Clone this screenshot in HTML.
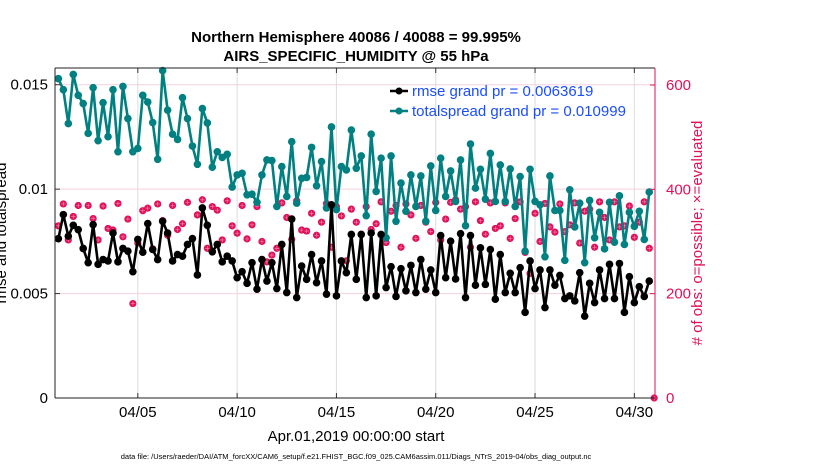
<!DOCTYPE html>
<html><head><meta charset="utf-8"><style>
body{margin:0;background:#fff;}
svg{display:block;font-family:"Liberation Sans",sans-serif;}
</style></head><body>
<svg id="chart" width="830" height="470" viewBox="0 0 830 470" xmlns="http://www.w3.org/2000/svg">
<g id="grid"></g>
<g id="series"></g>
<g id="axes"></g>
<text x="356" y="42" text-anchor="middle" font-size="15" font-weight="bold">Northern Hemisphere 40086 / 40088 = 99.995%</text>
<text x="356" y="61" text-anchor="middle" font-size="15" font-weight="bold">AIRS_SPECIFIC_HUMIDITY @ 55 hPa</text>
<text transform="translate(6,233) rotate(-90)" text-anchor="middle" font-size="15">rmse and totalspread</text>
<text transform="translate(702,233) rotate(-90)" text-anchor="middle" font-size="15" fill="#e0105a"># of obs: o=possible; ×=evaluated</text>
<text x="356" y="441" text-anchor="middle" font-size="15">Apr.01,2019 00:00:00 start</text>
<text x="356" y="459" text-anchor="middle" font-size="7.5">data file: /Users/raeder/DAI/ATM_forcXX/CAM6_setup/f.e21.FHIST_BGC.f09_025.CAM6assim.011/Diags_NTrS_2019-04/obs_diag_output.nc</text>
<g>
<line x1="390" y1="91" x2="408" y2="91" stroke="#000" stroke-width="2.5"/><circle cx="399" cy="91" r="3.5" fill="#000"/>
<text x="412" y="96" font-size="15" fill="#1a4dff">rmse grand pr = 0.0063619</text>
<line x1="390" y1="111" x2="408" y2="111" stroke="#008080" stroke-width="2.5"/><circle cx="399" cy="111" r="3.5" fill="#008080"/>
<text x="412" y="116" font-size="15" fill="#1a4dff">totalspread grand pr = 0.010999</text>
</g>
</svg>
<script>
const xTickLabels = ["04/05","04/10","04/15","04/20","04/25","04/30"];
const xTickDays = [4,9,14,19,24,29];
const yLeftTicks = [0,0.005,0.01,0.015];
const yLeftTickLabels = ["0","0.005","0.01","0.015"];
const yRightTicks = [0,200,400,600];
const totalspread = [15.29,14.76,13.14,15.49,14.49,14.10,12.67,14.86,12.32,14.14,12.51,14.76,11.79,14.92,13.38,11.79,11.95,14.49,14.17,13.19,11.43,15.68,13.78,12.63,12.38,14.38,13.38,12.06,11.19,13.86,13.17,11.05,11.79,11.52,11.67,10.10,10.68,10.76,9.73,9.76,9.37,
10.68,11.40,11.37,9.17,11.08,9.65,12.27,9.33,10.52,10.56,12.00,10.16,11.32,9.10,12.98,9.02,11.08,10.92,12.83,11.00,11.59,8.73,12.63,9.89,11.48,7.67,11.59,8.46,10.29,8.94,10.68,9.17,10.63,8.46,11.11,8.98,11.48,9.65,10.87,
9.41,11.40,8.25,12.16,10.05,10.95,9.52,11.71,9.41,11.16,9.41,10.97,9.17,10.60,7.03,10.95,9.41,9.25,6.76,10.63,8.98,8.98,6.59,9.97,8.19,9.33,6.48,9.46,7.67,8.89,7.14,9.37,7.46,9.68,7.35,8.89,8.22,8.94,7.59,9.86];
const rmse = [7.63,8.78,7.75,8.27,8.06,7.16,6.48,8.30,6.40,6.63,6.56,7.90,6.52,7.16,7.03,6.05,7.59,6.98,8.35,7.11,6.63,8.46,7.90,6.56,6.87,6.79,7.35,7.63,5.89,9.10,8.27,7.00,7.35,6.52,6.79,6.56,5.76,6.05,5.49,6.48,5.21,
6.63,5.60,6.48,5.24,7.35,5.05,8.57,4.81,6.32,5.68,6.87,5.52,6.56,4.97,9.25,4.89,6.56,6.00,7.83,5.68,7.83,4.81,7.90,4.89,7.83,5.29,6.29,4.86,6.19,5.13,6.35,5.05,6.63,5.21,6.13,5.05,7.78,5.76,7.51,
5.70,7.87,4.81,7.78,5.40,7.19,5.44,7.11,4.73,6.87,5.05,5.97,5.05,6.24,4.10,6.56,5.24,6.13,4.33,6.13,5.40,5.87,4.76,4.89,4.65,6.00,3.92,5.49,4.57,6.13,4.76,6.40,4.76,6.44,4.10,5.81,4.57,5.33,4.86,5.60];
const nobs = [330,372,303,348,369,286,369,344,303,368,325,322,373,309,343,181,297,359,364,286,372,340,312,369,323,334,375,306,351,380,287,367,360,303,378,330,316,369,305,332,367,
300,261,274,287,374,346,304,378,322,320,354,312,337,373,289,367,349,263,362,337,314,367,323,334,376,298,358,369,289,372,351,306,369,337,319,375,303,343,375,
380,362,367,289,376,340,314,374,325,330,374,306,344,376,279,239,354,300,373,328,318,372,319,332,374,297,358,362,289,376,346,303,376,328,330,368,308,337,376,287,0];

const NS="http://www.w3.org/2000/svg";
const L=55,R=655,T=68,B=398;
const xMin=-0.17,xMax=30.04;
const xs=d=>L+(d-xMin)/(xMax-xMin)*(R-L);
const xi=i=>xs(i/4);
const yl=v=>B-(v/0.0158)*(B-T);
const yR=c=>B-c*(313/600);
function mk(tag,attrs,parent){const e=document.createElementNS(NS,tag);for(const k in attrs)e.setAttribute(k,attrs[k]);parent.appendChild(e);return e;}
const grid=document.getElementById('grid'),ser=document.getElementById('series'),ax=document.getElementById('axes');
xTickDays.forEach((d,k)=>{
  const x=xs(d);
  const gl=mk('line',{x1:x,y1:T,x2:x,y2:B,stroke:'#dcdcdc','stroke-width':1},grid);
  
  
  const t=mk('text',{x:x,y:417,'text-anchor':'middle','font-size':15},ax);
  
  
  t.textContent=xTickLabels[k];
  mk('line',{x1:x,y1:B,x2:x,y2:B-5,stroke:'#333'},ax);
  mk('line',{x1:x,y1:T,x2:x,y2:T+5,stroke:'#333'},ax);
});
yLeftTicks.forEach((v,k)=>{
  const y=yl(v);
  if(v>0){const gl=mk('line',{x1:L,y1:y,x2:R,y2:y,stroke:'#f6cfe0','stroke-width':1},grid);
  
  }
  const t=mk('text',{x:L-7,y:y+5,'text-anchor':'end','font-size':15},ax);
  
  
  t.textContent=yLeftTickLabels[k];
  mk('line',{x1:L,y1:y,x2:L+5,y2:y,stroke:'#333'},ax);
});
yRightTicks.forEach(c=>{
  const y=yR(c);
  const t=mk('text',{x:R+11,y:y+5,'font-size':15,fill:'#e0105a'},ax);
  
  
  t.textContent=String(c);
  mk('line',{x1:R,y1:y,x2:R-5,y2:y,stroke:'#e0105a'},ax);
});
mk('line',{x1:L,y1:T,x2:R,y2:T,stroke:'#222'},ax);
mk('line',{x1:L,y1:T,x2:L,y2:B,stroke:'#222'},ax);
mk('line',{x1:L,y1:B,x2:R,y2:B,stroke:'#222'},ax);
mk('line',{x1:R,y1:T,x2:R,y2:B,stroke:'#e0105a'},ax);

nobs.forEach((c,i)=>{
  const x=xi(i),y=yR(c);
  const g=mk('g',{},ser);
  
  
  mk('circle',{cx:x,cy:y,r:3.6,fill:'#e0105a'},g);
  mk('path',{d:`M${x-2.2} ${y}H${x+2.2}M${x} ${y-2.2}V${y+2.2}`,stroke:'#f58ab0','stroke-width':0.6},g);
});
function line(vals,color,name){
  const pts=vals.map((v,i)=>xi(i)+','+yl(v/1000)).join(' ');
  const pl=mk('polyline',{points:pts,fill:'none',stroke:color,'stroke-width':2.6,'stroke-linejoin':'round'},ser);
  
  
  vals.forEach((v,i)=>{
    const c=mk('circle',{cx:xi(i),cy:yl(v/1000),r:3.8,fill:color},ser);
    
    
  });
}
line(totalspread,'#008080','totalspread');
line(rmse,'#000','rmse');
</script>
</body></html>
